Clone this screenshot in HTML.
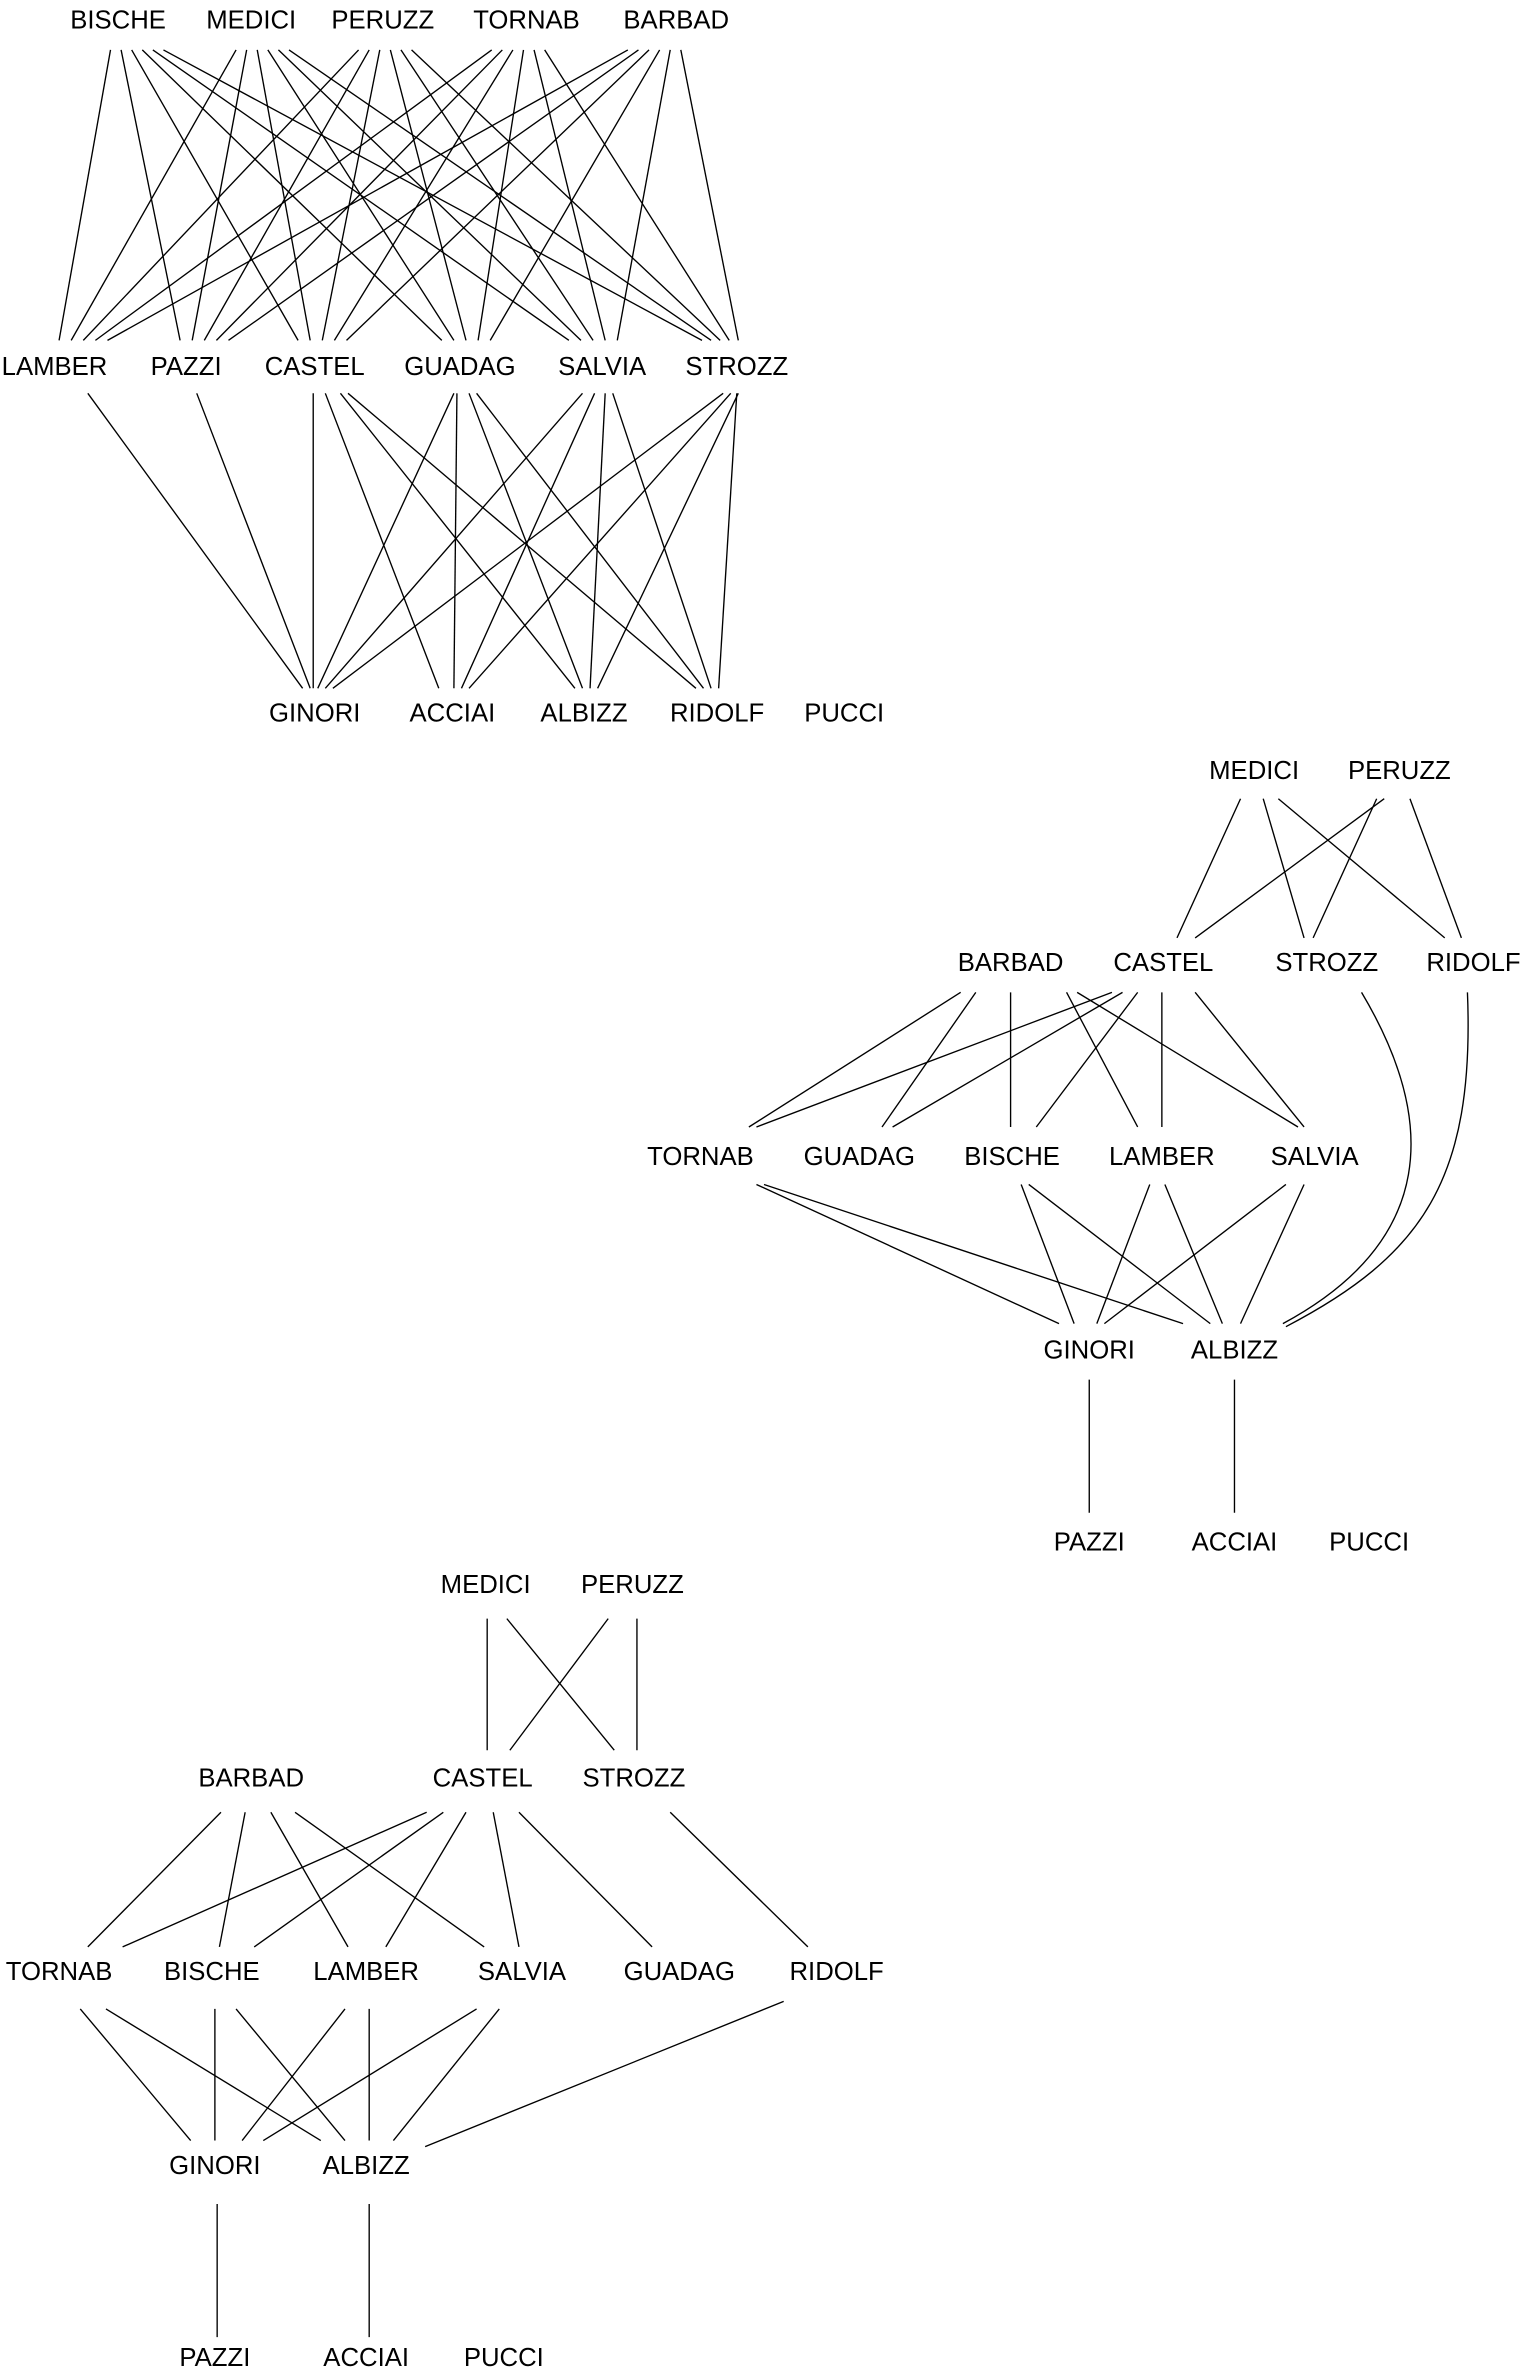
<!DOCTYPE html>
<html><head><meta charset="utf-8"><style>html,body{margin:0;padding:0;background:#fff}svg{display:block}text{font-family:"Liberation Sans",sans-serif;font-size:17px;fill:#000;text-anchor:middle}line,path{stroke:#000;stroke-width:0.9;fill:none}</style></head>
<body>
<svg width="1525" height="2375" viewBox="0 0 1008 1570" xmlns="http://www.w3.org/2000/svg">
<rect width="1008" height="1570" fill="#fff"/>
<!-- Graph 1 -->
<g>
<text x="78" y="19">BISCHE</text><text x="166" y="19">MEDICI</text><text x="253" y="19">PERUZZ</text><text x="348" y="19">TORNAB</text><text x="447" y="19">BARBAD</text>
<text x="36" y="248">LAMBER</text><text x="123" y="248">PAZZI</text><text x="208" y="248">CASTEL</text><text x="304" y="248">GUADAG</text><text x="398" y="248">SALVIA</text><text x="487" y="248">STROZZ</text>
<text x="208" y="477">GINORI</text><text x="299" y="477">ACCIAI</text><text x="386" y="477">ALBIZZ</text><text x="474" y="477">RIDOLF</text><text x="558" y="477">PUCCI</text>
<line x1="73" y1="33" x2="39" y2="225"/><line x1="80" y1="33" x2="119" y2="225"/><line x1="87" y1="33" x2="197" y2="225"/><line x1="94" y1="33" x2="292" y2="225"/><line x1="101" y1="33" x2="376" y2="225"/><line x1="108" y1="33" x2="464" y2="225"/>
<line x1="156" y1="33" x2="47" y2="225"/><line x1="163" y1="33" x2="127" y2="225"/><line x1="170" y1="33" x2="205" y2="225"/><line x1="177" y1="33" x2="300" y2="225"/><line x1="184" y1="33" x2="384" y2="225"/><line x1="191" y1="33" x2="470" y2="225"/>
<line x1="237" y1="33" x2="55" y2="225"/><line x1="244" y1="33" x2="135" y2="225"/><line x1="251" y1="33" x2="213" y2="225"/><line x1="258" y1="33" x2="308" y2="225"/><line x1="265" y1="33" x2="392" y2="225"/><line x1="272" y1="33" x2="476" y2="225"/>
<line x1="325" y1="33" x2="63" y2="225"/><line x1="332" y1="33" x2="143" y2="225"/><line x1="339" y1="33" x2="221" y2="225"/><line x1="346" y1="33" x2="316" y2="225"/><line x1="353" y1="33" x2="400" y2="225"/><line x1="360" y1="33" x2="482" y2="225"/>
<line x1="415" y1="33" x2="71" y2="225"/><line x1="422" y1="33" x2="151" y2="225"/><line x1="429" y1="33" x2="229" y2="225"/><line x1="436" y1="33" x2="324" y2="225"/><line x1="443" y1="33" x2="408" y2="225"/><line x1="450" y1="33" x2="488" y2="225"/>
<line x1="58" y1="260" x2="200" y2="455"/><line x1="130" y1="260" x2="205" y2="455"/>
<line x1="207" y1="260" x2="207" y2="455"/><line x1="215" y1="260" x2="290" y2="455"/><line x1="225" y1="260" x2="380" y2="455"/><line x1="230" y1="260" x2="460" y2="455"/>
<line x1="300" y1="260" x2="210" y2="455"/><line x1="302" y1="260" x2="300" y2="455"/><line x1="310" y1="260" x2="385" y2="455"/><line x1="315" y1="260" x2="465" y2="455"/>
<line x1="385" y1="260" x2="215" y2="455"/><line x1="393" y1="260" x2="305" y2="455"/><line x1="400" y1="260" x2="390" y2="455"/><line x1="405" y1="260" x2="470" y2="455"/>
<line x1="478" y1="260" x2="220" y2="455"/><line x1="483" y1="260" x2="310" y2="455"/><line x1="488" y1="260" x2="395" y2="455"/><line x1="487" y1="260" x2="475" y2="455"/>
</g>
<!-- Graph 2 -->
<g>
<text x="829" y="515">MEDICI</text><text x="925" y="515">PERUZZ</text>
<text x="668" y="642">BARBAD</text><text x="769" y="642">CASTEL</text><text x="877" y="642">STROZZ</text><text x="974" y="642">RIDOLF</text>
<text x="463" y="770">TORNAB</text><text x="568" y="770">GUADAG</text><text x="669" y="770">BISCHE</text><text x="768" y="770">LAMBER</text><text x="869" y="770">SALVIA</text>
<text x="720" y="898">GINORI</text><text x="816" y="898">ALBIZZ</text>
<text x="720" y="1025">PAZZI</text><text x="816" y="1025">ACCIAI</text><text x="905" y="1025">PUCCI</text>
<line x1="820" y1="528" x2="778" y2="620"/><line x1="835" y1="528" x2="862" y2="620"/><line x1="845" y1="528" x2="955" y2="620"/>
<line x1="915" y1="528" x2="790" y2="620"/><line x1="910" y1="528" x2="868" y2="620"/><line x1="932" y1="528" x2="966" y2="620"/>
<line x1="635" y1="656" x2="495" y2="745"/><line x1="645" y1="656" x2="583" y2="745"/><line x1="668" y1="656" x2="668" y2="745"/><line x1="705" y1="656" x2="752" y2="745"/><line x1="712" y1="656" x2="858" y2="745"/>
<line x1="735" y1="656" x2="500" y2="745"/><line x1="742" y1="656" x2="590" y2="745"/><line x1="752" y1="656" x2="685" y2="745"/><line x1="768" y1="656" x2="768" y2="745"/><line x1="790" y1="656" x2="862" y2="745"/>
<path d="M900 656 C 950 740, 950 820, 848 875"/><path d="M970 656 C 975 780, 940 830, 850 877"/>
<line x1="500" y1="783" x2="700" y2="875"/><line x1="505" y1="783" x2="782" y2="875"/>
<line x1="675" y1="783" x2="710" y2="875"/><line x1="680" y1="783" x2="800" y2="875"/>
<line x1="760" y1="783" x2="725" y2="875"/><line x1="770" y1="783" x2="808" y2="875"/>
<line x1="850" y1="783" x2="730" y2="875"/><line x1="862" y1="783" x2="820" y2="875"/>
<line x1="720" y1="912" x2="720" y2="1000"/><line x1="816" y1="912" x2="816" y2="1000"/>
</g>
<!-- Graph 3 -->
<g>
<text x="321" y="1053">MEDICI</text><text x="418" y="1053">PERUZZ</text>
<text x="166" y="1181">BARBAD</text><text x="319" y="1181">CASTEL</text><text x="419" y="1181">STROZZ</text>
<text x="39" y="1309">TORNAB</text><text x="140" y="1309">BISCHE</text><text x="242" y="1309">LAMBER</text><text x="345" y="1309">SALVIA</text><text x="449" y="1309">GUADAG</text><text x="553" y="1309">RIDOLF</text>
<text x="142" y="1437">GINORI</text><text x="242" y="1437">ALBIZZ</text>
<text x="142" y="1564">PAZZI</text><text x="242" y="1564">ACCIAI</text><text x="333" y="1564">PUCCI</text>
<line x1="322" y1="1070" x2="322" y2="1157"/><line x1="335" y1="1070" x2="406" y2="1157"/><line x1="402" y1="1070" x2="337" y2="1157"/><line x1="421" y1="1070" x2="421" y2="1157"/>
<line x1="146" y1="1198" x2="58" y2="1287"/><line x1="162" y1="1198" x2="145" y2="1287"/><line x1="179" y1="1198" x2="230" y2="1287"/><line x1="195" y1="1198" x2="320" y2="1287"/>
<line x1="282" y1="1198" x2="81" y2="1287"/><line x1="293" y1="1198" x2="168" y2="1287"/><line x1="308" y1="1198" x2="255" y2="1287"/><line x1="326" y1="1198" x2="343" y2="1287"/><line x1="343" y1="1198" x2="431" y2="1287"/>
<line x1="443" y1="1198" x2="534" y2="1287"/>
<line x1="53" y1="1328" x2="126" y2="1415"/><line x1="70" y1="1328" x2="212" y2="1415"/>
<line x1="142" y1="1328" x2="142" y2="1415"/><line x1="156" y1="1328" x2="228" y2="1415"/>
<line x1="228" y1="1328" x2="160" y2="1415"/><line x1="244" y1="1328" x2="244" y2="1415"/>
<line x1="315" y1="1328" x2="174" y2="1415"/><line x1="330" y1="1328" x2="260" y2="1415"/>
<line x1="518" y1="1323" x2="281" y2="1419"/>
<line x1="143.5" y1="1457" x2="143.5" y2="1545"/><line x1="244" y1="1457" x2="244" y2="1545"/>
</g>
</svg>
</body></html>
